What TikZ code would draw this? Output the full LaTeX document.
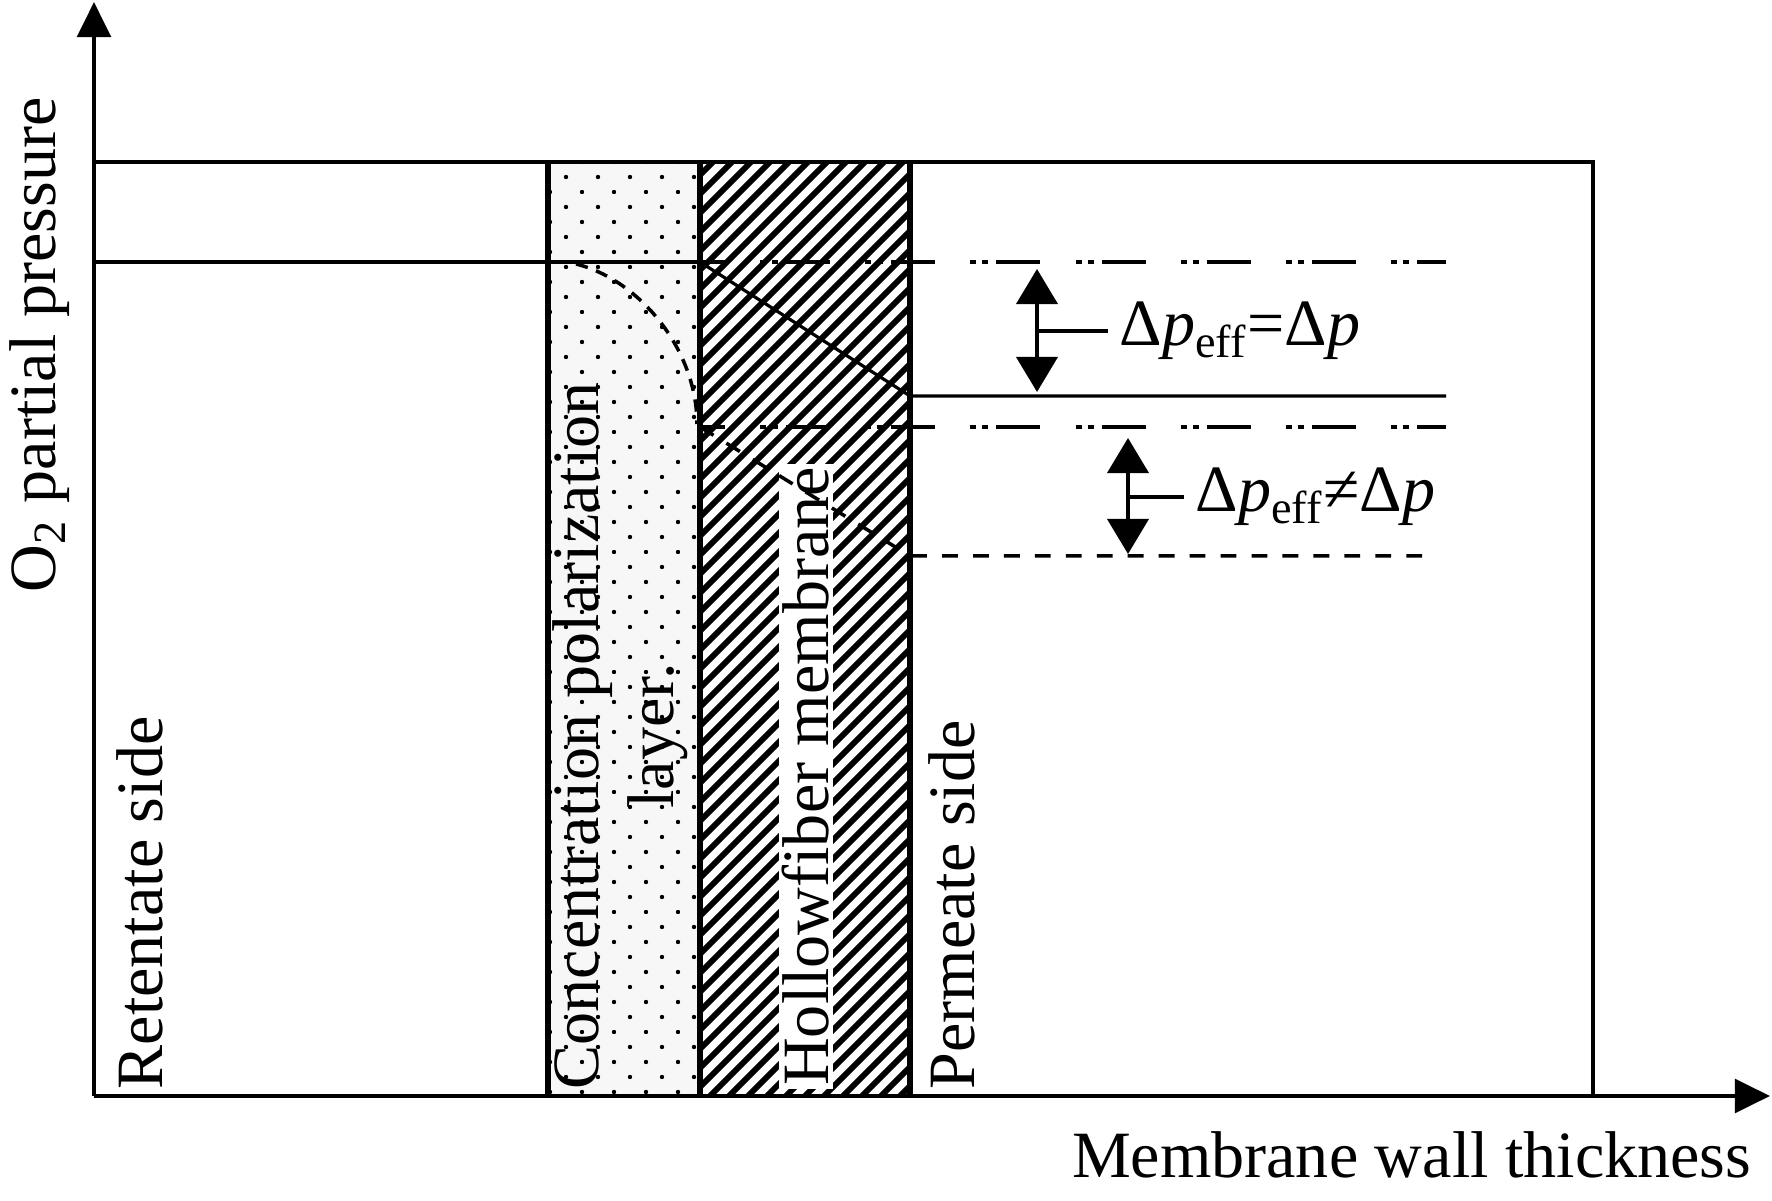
\documentclass[tikz,border=0pt]{standalone}
\usepackage{fontspec}
\setmainfont{Liberation Serif}
\usetikzlibrary{arrows.meta}

\tikzset{
    axisline/.style={line width=1.4pt, -{Triangle[width=9.5pt,length=10pt]}},
    frameline/.style={line width=0.9pt},
    layerline/.style={line width=1.7pt},
    dashdotdot/.style={line width=1.1pt, dash pattern=on 12.5pt off 10pt on 1.7pt off 1.7pt on 1.7pt off 2.3pt, dash phase=5.4pt},
    longdash/.style={line width=1pt, dash pattern=on 4.5pt off 4.3pt},
    curvedash/.style={line width=1pt, dash pattern=on 3.5pt off 2.5pt},
    bigarrow/.style={line width=1.15pt, {Triangle[width=11.7pt,length=10pt]}-{Triangle[width=11.7pt,length=10pt]}},
    lbl/.style={font=\fontsize{18.8}{21.5}\selectfont, inner sep=0pt},
}

\begin{document}
\begin{tikzpicture}[x=0.01cm, y=-0.01cm]
    \useasboundingbox (0,0) rectangle (1772,1201);

    % 1. Key points
    \coordinate (O) at (94,1096);
    \coordinate (hi) at (700,262);
    \coordinate (lo) at (700,427);

    % 2. Concentration polarization layer (dots) and membrane (hatch)
    \fill[gray!6] (548,162) rectangle (700,1096);
    \begin{scope}
        \clip (548,162) rectangle (700,1096);
        \foreach \r in {-1,...,62}
            \foreach \c in {0,...,5}
                \fill ({566+\c*32+mod(\r+2,2)*16-32},{177+\r*15}) circle (0.62pt);
    \end{scope}
    \begin{scope}
        \clip (700,162) rectangle (910,1096);
        \foreach \k in {0,...,62}
            \draw[line width=1.65pt] ({-250+\k*19},1106) -- ++(1100,-1100);
    \end{scope}

    % 3. Frame and layer borders
    \draw[frameline] (94,162) -- (1593,162) -- (1593,1096);
    \draw[layerline] (548,162) -- (548,1096);
    \draw[layerline] (700,162) -- (700,1096);
    \draw[layerline] (910,162) -- (910,1096);

    % 4. Axes
    \draw[axisline] (O) -- (94,2);
    \draw[axisline] (O) -- (1770,1096);

    % 5. Region labels
    \node[lbl, rotate=90, anchor=west] (ret) at (140,1090) {Retentate side};
    \node[lbl, rotate=90, anchor=west, align=center] (cpl) at (620,1090) {Concentration polarization\\layer.};
    \node[lbl, rotate=90, anchor=west, fill=white, inner sep=1pt] (hfm) at (806,1090) {Hollowfiber membrane};
    \node[lbl, rotate=90, anchor=west] (per) at (952,1090) {Permeate side};

    % 6. Pressure profiles
    \draw[frameline] (94,262) -- (hi);
    \draw[dashdotdot] (hi) -- (1446,262);
    \draw[frameline] (hi) -- (910,396) -- (1446,396);
    \draw[dashdotdot] (lo) -- (1446,427);
    \draw[curvedash] (576,264) .. controls (640,280) and (697,350) .. (697,424);
    \draw[longdash] (lo) -- (910,556) -- (1424,556);

    % 7. Pressure drops
    \coordinate (a1t) at (1037,269);
    \coordinate (a1b) at (1037,392);
    \coordinate (a2t) at (1128,438);
    \coordinate (a2b) at (1128,554);
    \draw[bigarrow] (a1t) -- (a1b);
    \draw[bigarrow] (a2t) -- (a2b);
    \node[lbl, anchor=west] (eq) at (1119,331) {Δ\textit{p}\textsubscript{eff}=Δ\textit{p}};
    \node[lbl, anchor=west] (neq) at (1195,497) {Δ\textit{p}\textsubscript{eff}≠Δ\textit{p}};
    \draw[line width=1pt] (1037,331) -- ([xshift=-3pt]eq.west);
    \draw[line width=1pt] (1128,497) -- ([xshift=-3pt]neq.west);

    % 8. Axis titles
    \node[lbl, rotate=90] (ylab) at (40,345) {O\textsubscript{2} partial pressure};
    \node[lbl, anchor=base east] (xlab) at (1752,1178) {Membrane wall thickness};
\end{tikzpicture}
\end{document}
